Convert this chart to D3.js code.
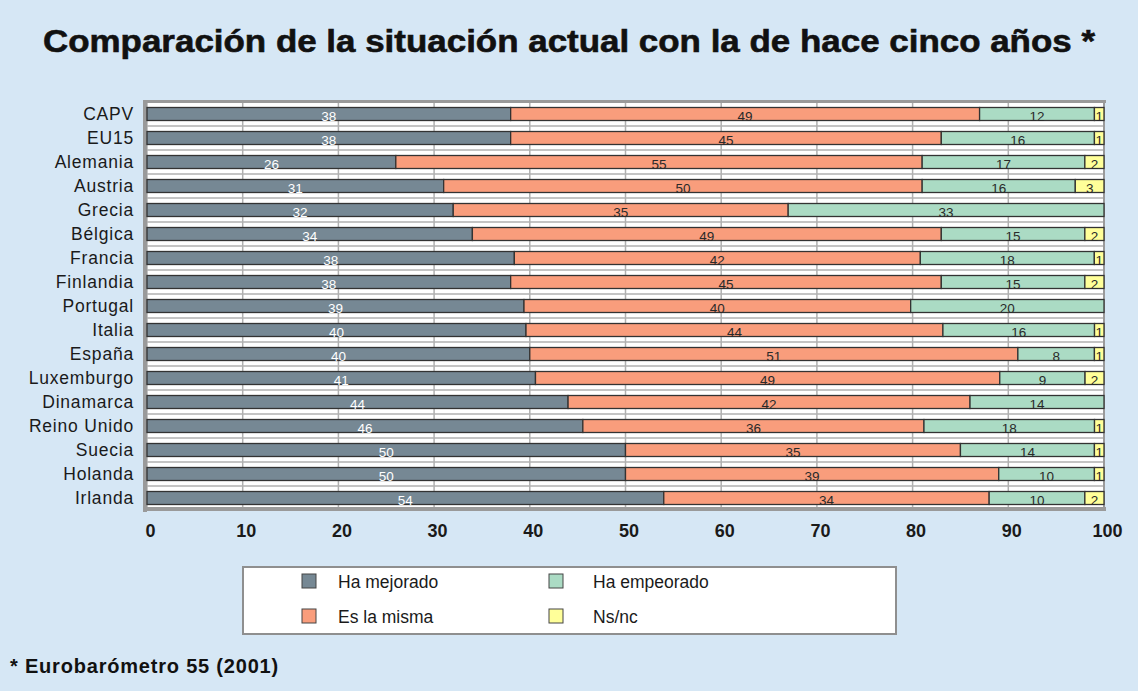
<!DOCTYPE html>
<html>
<head>
<meta charset="utf-8">
<script src="https://cdn.jsdelivr.net/npm/d3@7/dist/d3.min.js"></script>
<style>
  html, body { margin: 0; padding: 0; background: #d6e7f5; }
  svg { display: block; font-family: "Liberation Sans", Arial, sans-serif; }
</style>
</head>
<body>
<svg id="chart" width="1138" height="691"></svg>
<script>
// Survey answers per country (percent), Eurobarómetro 55 (2001)
const countries = ["CAPV", "EU15", "Alemania", "Austria", "Grecia", "Bélgica", "Francia",
  "Finlandia", "Portugal", "Italia", "España", "Luxemburgo", "Dinamarca", "Reino Unido",
  "Suecia", "Holanda", "Irlanda"];
const seriesNames = ["Ha mejorado", "Es la misma", "Ha empeorado", "Ns/nc"];
const mejorado  = [38, 38, 26, 31, 32, 34, 38, 38, 39, 40, 40, 41, 44, 46, 50, 50, 54];
const misma     = [49, 45, 55, 50, 35, 49, 42, 45, 40, 44, 51, 49, 42, 36, 35, 39, 34];
const empeorado = [12, 16, 17, 16, 33, 15, 18, 15, 20, 16,  8,  9, 14, 18, 14, 10, 10];
const nsnc      = [ 1,  1,  2,  3,  0,  2,  1,  2,  0,  1,  1,  2,  0,  1,  1,  1,  2];
const xTicks = [0, 10, 20, 30, 40, 50, 60, 70, 80, 90, 100];

const colors = ["#768894", "#f99d7c", "#abdbc4", "#ffff99"];
const labelColors = ["#ffffff", "#2a2a2a", "#2a2a2a", "#2a2a2a"];

const rows = countries.map((c, i) => ({
  country: c,
  "Ha mejorado": mejorado[i],
  "Es la misma": misma[i],
  "Ha empeorado": empeorado[i],
  "Ns/nc": nsnc[i]
}));

// 100% stacked bars: each row is normalised to its own total
const stacked = d3.stack().keys(seriesNames).offset(d3.stackOffsetExpand)(rows);

const svg = d3.select("#chart");
const plot = { left: 147, right: 1104, top: 102, bottom: 510 };

const x = d3.scaleLinear().domain([0, 100]).range([plot.left, plot.right]);
const y = d3.scaleBand().domain(countries).range([plot.top, plot.bottom]).paddingInner(0).paddingOuter(0);
const barH = 13;

// Title
svg.append("text")
  .attr("x", 569).attr("y", 52)
  .attr("text-anchor", "middle")
  .attr("font-size", 32).attr("font-weight", "bold")
  .attr("fill", "#111").attr("stroke", "#111").attr("stroke-width", 0.6)
  .attr("textLength", 1052).attr("lengthAdjust", "spacingAndGlyphs")
  .text("Comparación de la situación actual con la de hace cinco años *");

// Plot background
svg.append("rect")
  .attr("x", plot.left).attr("y", plot.top)
  .attr("width", plot.right - plot.left).attr("height", plot.bottom - plot.top)
  .attr("fill", "#ffffff");

// Grid lines
const grid = svg.append("g").attr("stroke", "#b0b0b0").attr("stroke-width", 1.5);
grid.selectAll("line.v").data(xTicks).join("line")
  .attr("x1", d => x(d)).attr("x2", d => x(d))
  .attr("y1", plot.top).attr("y2", plot.bottom);
grid.selectAll("line.h").data(countries).join("line")
  .attr("x1", plot.left).attr("x2", plot.right)
  .attr("y1", d => y(d) + y.bandwidth()).attr("y2", d => y(d) + y.bandwidth());

// Wall edges
svg.append("rect").attr("x", plot.left - 4).attr("y", plot.top - 1)
  .attr("width", 4).attr("height", plot.bottom - plot.top + 3).attr("fill", "#9a9a9a");
svg.append("rect").attr("x", plot.left - 4).attr("y", plot.top - 2)
  .attr("width", plot.right - plot.left + 6).attr("height", 3).attr("fill", "#9a9a9a");
svg.append("rect").attr("x", plot.left - 4).attr("y", plot.bottom - 3)
  .attr("width", plot.right - plot.left + 6).attr("height", 4).attr("fill", "#9a9a9a");
svg.append("rect").attr("x", plot.right - 1).attr("y", plot.top - 1)
  .attr("width", 2).attr("height", plot.bottom - plot.top + 1).attr("fill", "#9a9a9a");

// Bars
const layers = svg.append("g").selectAll("g").data(stacked).join("g")
  .attr("fill", (d, i) => colors[i]);
layers.selectAll("rect")
  .data(d => d.filter(p => p[1] - p[0] > 0))
  .join("rect")
  .attr("x", d => x(d[0] * 100))
  .attr("y", d => y(d.data.country) + (y.bandwidth() - barH) / 2)
  .attr("width", d => x(d[1] * 100) - x(d[0] * 100))
  .attr("height", barH)
  .attr("stroke", "#333")
  .attr("stroke-width", 1.3);

// Value labels
const labels = svg.append("g").attr("font-size", 13.5).attr("text-anchor", "middle");
stacked.forEach((layer, i) => {
  labels.selectAll(null)
    .data(layer.filter(p => p.data[layer.key] > 0))
    .join("text")
    .attr("x", d => (x(d[0] * 100) + x(d[1] * 100)) / 2)
    .attr("y", d => y(d.data.country) + y.bandwidth() / 2 + 7)
    .attr("fill", labelColors[i])
    .text(d => d.data[layer.key]);
});

// Country labels
svg.append("g").selectAll("text").data(countries).join("text")
  .attr("x", 134)
  .attr("y", d => y(d) + y.bandwidth() / 2 + 6)
  .attr("text-anchor", "end")
  .attr("font-size", 17.5)
  .attr("fill", "#1a1a1a")
  .attr("letter-spacing", "0.8")
  .text(d => d);

// X axis labels
const xAxis = d3.axisBottom(x).tickValues(xTicks).tickSize(0).tickPadding(0);
const axisG = svg.append("g").attr("transform", `translate(3, ${plot.bottom + 12})`).call(xAxis);
axisG.select(".domain").remove();
axisG.selectAll("text")
  .attr("font-size", 18).attr("font-weight", "bold")
  .attr("font-family", "'Liberation Sans Narrow', 'Liberation Sans', Arial, sans-serif")
  .attr("fill", "#1a1a1a").attr("dy", "0.85em");

// Legend
const legend = svg.append("g");
legend.append("rect").attr("x", 243).attr("y", 567).attr("width", 653).attr("height", 67)
  .attr("fill", "#ffffff").attr("stroke", "#8f8f8f").attr("stroke-width", 2);
const legendPos = [
  { sx: 302, sy: 574, tx: 338 },
  { sx: 302, sy: 609, tx: 338 },
  { sx: 549, sy: 574, tx: 593 },
  { sx: 549, sy: 609, tx: 593 }
];
seriesNames.forEach((name, i) => {
  const p = legendPos[i];
  legend.append("rect").attr("x", p.sx).attr("y", p.sy).attr("width", 14).attr("height", 14)
    .attr("fill", colors[i]).attr("stroke", "#444").attr("stroke-width", 1);
  legend.append("text").attr("x", p.tx).attr("y", p.sy + 14)
    .attr("font-size", 17.5).attr("fill", "#1a1a1a").text(name);
});

// Source note
svg.append("text").attr("x", 10).attr("y", 673)
  .attr("font-size", 20).attr("font-weight", "bold").attr("fill", "#111")
  .attr("letter-spacing", "0.8")
  .text("* Eurobarómetro 55 (2001)");
</script>
</body>
</html>
